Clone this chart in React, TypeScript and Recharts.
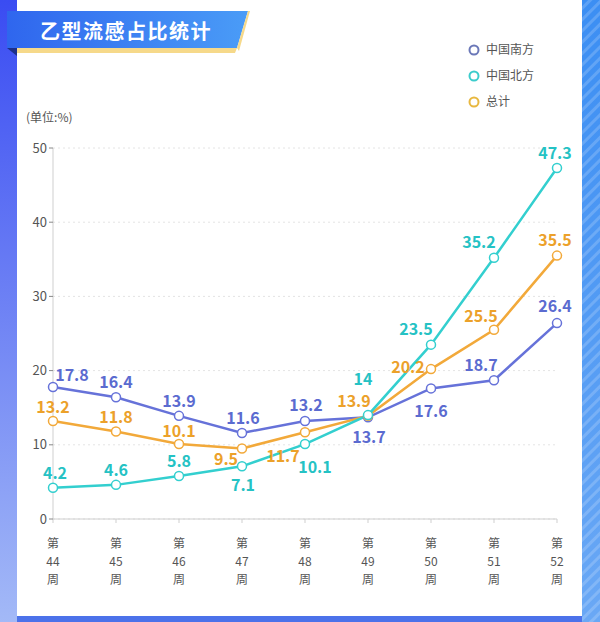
import React from 'react';
import { LineChart, Line, XAxis, YAxis, CartesianGrid } from 'recharts';

const weeks = ['44', '45', '46', '47', '48', '49', '50', '51', '52'];
const south = [17.8, 16.4, 13.9, 11.6, 13.2, 13.7, 17.6, 18.7, 26.4];
const north = [4.2, 4.6, 5.8, 7.1, 10.1, 14, 23.5, 35.2, 47.3];
const total = [13.2, 11.8, 10.1, 9.5, 11.7, 13.9, 20.2, 25.5, 35.5];
const yTicks = [0, 10, 20, 30, 40, 50];

const seriesNames = ['中国南方', '中国北方', '总计'];

// label offsets [dx, dy] relative to each point
const southLabelOffsets = [[19, -13], [0, -16], [0, -16], [1, -16], [1, -17], [1, 19], [0, 22], [-13, -16], [-2, -18]];
const northLabelOffsets = [[2, -16], [0, -16], [0, -16], [1, 18], [10, 22], [-5, -37], [-15, -17], [-15, -17], [-2, -16]];
const totalLabelOffsets = [[0, -15], [0, -15], [0, -14], [-16, 9], [-22, 23], [-14, -16], [-23, -3], [-13, -15], [-2, -17]];

const data = weeks.map((w, i) => ({ week: w, south: south[i], north: north[i], total: total[i] }));

const FONT = '"Noto Sans CJK SC", "Noto Sans", sans-serif';

const makeLabel = (color: string, offsets: number[][]) => (props: any) => {
  const { x, y, index, value } = props;
  const [dx, dy] = offsets[index] || [0, -15];
  return (
    <text
      x={x + dx}
      y={y + dy}
      textAnchor="middle"
      dominantBaseline="central"
      fill={color}
      fontSize={16}
      fontWeight={600}
      fontFamily={FONT}
    >
      {value}
    </text>
  );
};

const XTick = (props: any) => {
  const { x, y, payload } = props;
  const lines = ['第', payload.value, '周'];
  return (
    <g>
      {lines.map((t, i) => (
        <text key={i} x={x} y={y + 23 + i * 18} textAnchor="middle" fill="#555" fontSize={12} fontFamily={FONT}>
          {t}
        </text>
      ))}
    </g>
  );
};

const colors = {
  southLine: '#6672d9',
  northLine: '#33cfcf',
  totalLine: '#f2a93a',
  southText: '#5b6bd0',
  northText: '#25c2c4',
  totalText: '#eca12a',
};

const legendColors = ['#6b78b8', '#3ccccc', '#e8b840'];

export default function App() {
  return (
    <div style={{ position: 'fixed', left: 0, top: 0, width: 600, height: 622, background: '#fff', overflow: 'hidden', fontFamily: FONT }}>
      <svg width={600} height={622} style={{ position: 'absolute', left: 0, top: 0 }}>
        <defs>
          <linearGradient id="leftStripe" x1="0" y1="0" x2="0" y2="1">
            <stop offset="0%" stopColor="#3a4cf2" />
            <stop offset="100%" stopColor="#a3b9f7" />
          </linearGradient>
          <linearGradient id="rightStripe" x1="0" y1="0" x2="0" y2="1">
            <stop offset="0%" stopColor="#3b8ef3" />
            <stop offset="100%" stopColor="#6aa8f5" />
          </linearGradient>
          <linearGradient id="banner" x1="0" y1="0" x2="1" y2="0">
            <stop offset="0%" stopColor="#2f66ee" />
            <stop offset="100%" stopColor="#4a9cf7" />
          </linearGradient>
          <pattern id="diag" width="8" height="8" patternUnits="userSpaceOnUse" patternTransform="rotate(45)">
            <rect width="3" height="8" fill="rgba(255,255,255,0.18)" />
          </pattern>
        </defs>
        <rect x={0} y={0} width={17} height={622} fill="url(#leftStripe)" />
        <rect x={582} y={0} width={18} height={622} fill="url(#rightStripe)" />
        <rect x={582} y={0} width={18} height={622} fill="url(#diag)" />
        <rect x={17} y={616} width={565} height={6} fill="#4c72ea" />
        <polygon points="16,48 237,48 235,53 16,53" fill="#f6d98a" />
        <polygon points="7,48 17,48 17,56" fill="#1c2f8a" />
        <polygon points="7,11 248,11 237,48 7,48" fill="url(#banner)" />
        <polygon points="248,11 250,11 239,51 237,48" fill="#f6d98a" />
        <text x={40} y={39} fill="#fff" fontSize={20} fontWeight={700} letterSpacing={1.5} fontFamily={FONT}>乙型流感占比统计</text>
        <text x={26} y={122} fill="#555" fontSize={12} fontFamily={FONT}>(单位:%)</text>
        {seriesNames.map((n, i) => (
          <g key={n}>
            <circle cx={474} cy={50 + i * 26} r={4.5} fill="#fff" stroke={legendColors[i]} strokeWidth={2} />
            <text x={486} y={54 + i * 26} fill="#555" fontSize={12} fontFamily={FONT}>{n}</text>
          </g>
        ))}
      </svg>
      <div style={{ position: 'absolute', left: 0, top: 0 }}>
        <LineChart width={600} height={622} data={data} margin={{ top: 148, right: 43, bottom: 0, left: 0 }}>
          <CartesianGrid vertical={false} stroke="#e4e4e4" strokeDasharray="2 3" />
          <XAxis
            dataKey="week"
            height={103}
            axisLine={{ stroke: '#cfcfcf' }}
            tickLine={{ stroke: '#cfcfcf' }}
            tickSize={4}
            tick={<XTick />}
            interval={0}
          />
          <YAxis
            width={53}
            domain={[0, 50]}
            ticks={yTicks}
            axisLine={{ stroke: '#cfcfcf' }}
            tickLine={{ stroke: '#888' }}
            tickSize={4}
            tickMargin={2}
            tick={{ fill: '#555', fontSize: 13, fontFamily: FONT }}
          />
          <Line
            dataKey="south"
            stroke={colors.southLine}
            strokeWidth={2.5}
            dot={{ r: 4.5, fill: '#fff', stroke: colors.southLine, strokeWidth: 1.5 }}
            label={makeLabel(colors.southText, southLabelOffsets)}
            isAnimationActive={false}
          />
          <Line
            dataKey="total"
            stroke={colors.totalLine}
            strokeWidth={2.5}
            dot={{ r: 4.5, fill: '#fff', stroke: colors.totalLine, strokeWidth: 1.5 }}
            label={makeLabel(colors.totalText, totalLabelOffsets)}
            isAnimationActive={false}
          />
          <Line
            dataKey="north"
            stroke={colors.northLine}
            strokeWidth={2.5}
            dot={{ r: 4.5, fill: '#fff', stroke: colors.northLine, strokeWidth: 1.5 }}
            label={makeLabel(colors.northText, northLabelOffsets)}
            isAnimationActive={false}
          />
        </LineChart>
      </div>
    </div>
  );
}
